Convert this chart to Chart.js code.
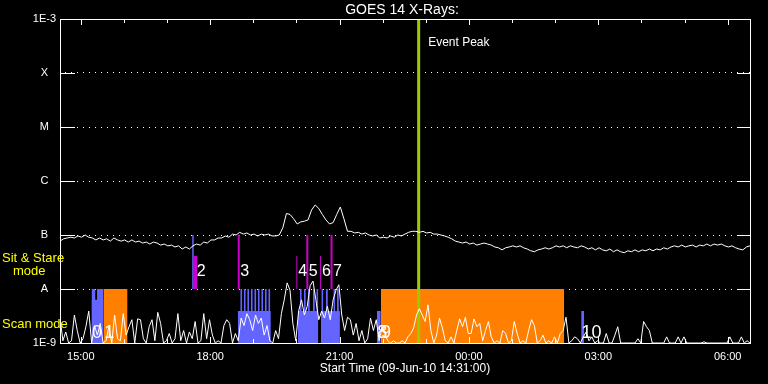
<!DOCTYPE html>
<html>
<head>
<meta charset="utf-8">
<script src="https://cdn.jsdelivr.net/npm/chart.js@4/dist/chart.umd.min.js"></script>
<style>
html,body{margin:0;padding:0;background:#000;}
#wrap{width:768px;height:384px;}
canvas{display:block;}
</style>
</head>
<body>
<div id="wrap"><canvas id="c" width="768" height="384"></canvas></div>
<script>
// ---------------- DATA ----------------
const titleText = 'GOES 14 X-Rays:';
const xTitleText = 'Start Time (09-Jun-10 14:31:00)';
// time axis: minutes since 14:31 UT
const xMin = 0, xMax = 960;
const xTickTimes = [29, 209, 389, 569, 749, 929];
const xTickLabels = ['15:00', '18:00', '21:00', '00:00', '03:00', '06:00'];
const hourTickTimes = [29, 89, 149, 209, 269, 329, 389, 449, 509, 569, 629, 689, 749, 809, 869, 929];
const yTickValues = [1e-9, 1e-8, 1e-7, 1e-6, 1e-5, 1e-4, 1e-3];
const yTickLabels = ['1E-9', 'A', 'B', 'C', 'M', 'X', '1E-3'];

// GOES long channel (1-8 A), one value every 5 minutes
const longStep = 5;
const longFlux = [
 7.7e-8, 8.5e-8, 8.8e-8, 9.1e-8, 8.8e-8, 9.6e-8, 9.1e-8, 1.0e-7, 9.1e-8, 8.8e-8,
 8.1e-8, 8.8e-8, 8.1e-8, 8.5e-8, 7.7e-8, 8.8e-8, 8.1e-8, 7.7e-8, 8.1e-8, 7.4e-8,
 8.1e-8, 7.4e-8, 7.7e-8, 7.1e-8, 7.4e-8, 6.8e-8, 7.4e-8, 7.1e-8, 6.5e-8, 6.8e-8,
 6.3e-8, 6.5e-8, 6.0e-8, 6.3e-8, 5.5e-8, 6.0e-8, 5.5e-8, 6.3e-8, 6.8e-8, 6.5e-8,
 7.4e-8, 7.1e-8, 8.1e-8, 8.1e-8, 8.8e-8, 8.8e-8, 9.6e-8, 9.1e-8, 1.04e-7, 1.0e-7,
 1.12e-7, 1.04e-7, 1.09e-7, 1.0e-7, 1.04e-7, 9.6e-8, 1.04e-7, 1.0e-7, 1.04e-7, 9.6e-8,
 9.6e-8, 1.0e-7, 1.36e-7, 2.5e-7, 2.4e-7, 2.0e-7, 1.6e-7, 1.75e-7, 1.8e-7, 1.9e-7,
 2.9e-7, 3.6e-7, 3.1e-7, 2.4e-7, 1.9e-7, 1.6e-7, 1.7e-7, 2.4e-7, 3.3e-7, 2.0e-7,
 1.17e-7, 1.17e-7, 1.09e-7, 1.12e-7, 1.04e-7, 1.09e-7, 1.0e-7, 9.6e-8, 1.0e-7, 8.8e-8,
 9.1e-8, 8.8e-8, 9.6e-8, 9.1e-8, 1.0e-7, 9.6e-8, 1.04e-7, 1.12e-7, 1.17e-7, 1.17e-7,
 1.12e-7, 1.17e-7, 1.09e-7, 1.12e-7, 1.04e-7, 1.04e-7, 1.0e-7, 9.6e-8, 9.1e-8, 8.5e-8,
 7.7e-8, 7.4e-8, 7.1e-8, 7.4e-8, 6.8e-8, 7.1e-8, 6.5e-8, 6.8e-8, 7.1e-8, 6.8e-8,
 6.5e-8, 6.0e-8, 5.8e-8, 5.3e-8, 5.8e-8, 6.0e-8, 6.3e-8, 6.0e-8, 6.3e-8, 5.8e-8,
 5.5e-8, 5.1e-8, 4.9e-8, 5.3e-8, 5.5e-8, 5.8e-8, 5.5e-8, 5.8e-8, 6.3e-8, 6.0e-8,
 6.3e-8, 5.8e-8, 6.3e-8, 6.0e-8, 5.8e-8, 6.3e-8, 6.0e-8, 5.5e-8, 5.8e-8, 5.3e-8,
 5.8e-8, 5.3e-8, 5.1e-8, 5.5e-8, 4.9e-8, 5.3e-8, 4.9e-8, 4.7e-8, 5.1e-8, 4.9e-8,
 5.3e-8, 4.9e-8, 5.3e-8, 5.1e-8, 5.5e-8, 5.1e-8, 5.5e-8, 5.3e-8, 5.8e-8, 5.5e-8,
 6.0e-8, 6.3e-8, 6.0e-8, 6.5e-8, 6.0e-8, 6.3e-8, 6.5e-8, 6.0e-8, 6.5e-8, 6.3e-8,
 6.8e-8, 6.3e-8, 6.8e-8, 6.5e-8, 6.8e-8, 6.3e-8, 6.0e-8, 6.3e-8, 5.8e-8, 5.5e-8,
 5.3e-8, 6.0e-8, 6.3e-8
];

// GOES short channel (0.5-4 A), one value every 4 minutes
const shortStep = 4;
const shortFlux = [
 3.0e-9, 1.1e-9, 1.6e-9, 1.0e-9, 1.1e-9, 3.3e-9, 1.7e-9, 1.0e-9, 1.2e-9, 2.0e-9,
 3.9e-9, 1.0e-9, 2.1e-9, 1.4e-9, 2.3e-9, 1.0e-9, 1.1e-9, 2.0e-9, 1.0e-9, 3.3e-9,
 1.2e-9, 1.1e-9, 3.5e-9, 1.4e-9, 2.0e-9, 2.7e-9, 1.0e-9, 2.8e-9, 2.7e-9, 1.2e-9,
 1.0e-9, 2.0e-9, 2.7e-9, 1.1e-9, 3.7e-9, 2.3e-9, 1.0e-9, 1.1e-9, 1.5e-9, 1.0e-9,
 1.2e-9, 3.5e-9, 1.1e-9, 1.7e-9, 1.0e-9, 1.6e-9, 1.2e-9, 2.5e-9, 1.0e-9, 1.1e-9,
 3.5e-9, 1.2e-9, 2.7e-9, 1.4e-9, 1.0e-9, 1.1e-9, 1.0e-9, 2.1e-9, 2.7e-9, 2.3e-9,
 1.0e-9, 1.5e-9, 1.1e-9, 2.9e-9, 2.1e-9, 3.5e-9, 2.7e-9, 1.7e-9, 3.3e-9, 2.3e-9,
 2.9e-9, 1.4e-9, 2.1e-9, 1.1e-9, 1.0e-9, 1.7e-9, 1.2e-9, 3.5e-9, 6.3e-9, 1.3e-8,
 9.5e-9, 2.3e-9, 1.1e-9, 3.9e-9, 6.3e-9, 3.3e-9, 4.8e-9, 1.15e-8, 1.4e-8, 6.3e-9,
 2.7e-9, 3.9e-9, 2.9e-9, 4.8e-9, 2.7e-9, 6.3e-9, 9.5e-9, 1.2e-8, 3.3e-9, 1.7e-9,
 3.0e-9, 2.7e-9, 1.4e-9, 2.3e-9, 1.1e-9, 1.7e-9, 1.0e-9, 1.2e-9, 2.9e-9, 1.7e-9,
 2.7e-9, 1.1e-9, 2.0e-9, 1.5e-9, 1.1e-9, 1.0e-9, 1.1e-9, 1.0e-9, 1.0e-9, 1.1e-9,
 1.0e-9, 1.3e-9, 1.5e-9, 1.9e-9, 3.3e-9, 4.3e-9, 3.3e-9, 2.5e-9, 5.1e-9, 1.7e-9,
 1.0e-9, 1.4e-9, 2.9e-9, 1.9e-9, 1.1e-9, 1.0e-9, 1.3e-9, 1.0e-9, 1.7e-9, 2.8e-9,
 2.0e-9, 3.0e-9, 1.5e-9, 1.5e-9, 2.8e-9, 2.0e-9, 2.3e-9, 1.1e-9, 1.7e-9, 2.5e-9,
 1.3e-9, 1.0e-9, 1.1e-9, 1.0e-9, 1.7e-9, 1.5e-9, 1.0e-9, 1.1e-9, 2.5e-9, 1.5e-9,
 1.0e-9, 1.1e-9, 1.0e-9, 1.7e-9, 2.7e-9, 2.1e-9, 1.0e-9, 1.1e-9, 1.4e-9, 1.0e-9,
 1.1e-9, 1.0e-9, 1.3e-9, 1.0e-9, 1.5e-9, 1.7e-9, 3.0e-9, 1.0e-9, 1.1e-9, 1.3e-9,
 1.2e-9, 1.0e-9, 1.3e-9, 1.6e-9, 1.1e-9, 1.3e-9, 1.0e-9, 1.1e-9, 1.0e-9, 1.0e-9,
 1.5e-9, 1.0e-9, 1.0e-9, 1.4e-9, 2.0e-9, 1.0e-9, 1.0e-9, 1.0e-9, 1.0e-9, 1.0e-9,
 1.0e-9, 1.2e-9, 1.0e-9, 2.5e-9, 2.0e-9, 1.7e-9, 1.0e-9, 1.0e-9, 1.0e-9, 1.0e-9,
 1.0e-9, 1.3e-9, 1.0e-9, 1.0e-9, 1.0e-9, 1.3e-9, 1.0e-9, 1.3e-9, 1.0e-9, 1.0e-9,
 1.0e-9, 1.0e-9, 1.0e-9, 1.0e-9, 1.05e-9, 1.0e-9, 1.0e-9, 1.0e-9, 1.0e-9, 1.0e-9,
 1.0e-9, 1.0e-9, 1.0e-9, 1.3e-9, 1.0e-9, 1.0e-9, 1.0e-9, 1.3e-9, 1.0e-9, 1.1e-9,
 1.0e-9
];

// Scan-mode observation blocks (blue): start, end (minutes), upper flux level
const scanBlockStart = [43.9, 247.3, 330.9, 363.0, 441.0, 725.1];
const scanBlockEnd   = [60.6, 293.3, 358.8, 389.4, 446.3, 729.3];
const scanBlockTop   = [6.3e-9, 3.9e-9, 3.9e-9, 3.9e-9, 3.9e-9, 3.9e-9];
// individual scan rasters reaching the A level (blue)
const rasterStart = [43.9, 51.5, 250.8, 255.6, 260.5, 265.4, 270.3, 275.1, 280.0, 284.9, 289.8,
                     333.6, 339.2, 344.8, 351.8, 356.6, 363.6, 369.9, 380.3, 385.2];
const rasterEnd   = [49.4, 60.6, 253.6, 258.4, 263.3, 268.2, 273.1, 277.9, 282.8, 287.7, 292.6,
                     336.4, 342.0, 347.6, 354.6, 359.4, 366.4, 372.7, 383.1, 388.0];
const rasterTop = 1e-8;
// long scan-mode runs (orange)
const runStart = [60.6, 446.5];
const runEnd   = [94.0, 701.5];
const runTop = 1e-8;
// sit & stare events (magenta)
const eventLabels = ['2', '3', '4', '5', '6', '7'];
const eventTimes  = [188.1, 248.7, 329.5, 344.1, 362.5, 377.8];
const eventLow    = [1e-8, 1e-8, 1e-8, 1e-8, 1e-8, 1e-8];
const eventHigh   = [4.1e-8, 1e-7, 4.1e-8, 1e-7, 4.1e-8, 1e-7];
const stareBlueTime = 185.0;
const stareBlueLow = 1e-8, stareBlueHigh = 1e-7;
// scan numbers
const scanLabels = ['0', '1', '8', '9', '10'];
const scanLabelTimes = [44.5, 61.5, 441.5, 446.5, 725.5];
// event peak
const eventPeakTime = 499.0;
const eventPeakText = 'Event Peak';

// ---------------- STYLE ----------------
const FONT = "'Liberation Sans', Arial, Helvetica, sans-serif";
const WHITE = '#ffffff';
const BLUE = '#6464ff';
const ORANGE = '#ff8000';
const MAGENTA = '#cc00cc';
const PEAK = '#99cc00';
const YELLOW = '#ffff00';
const eventWidths = [4, 2, 1, 2, 1, 2];
const eventLabelLevel = 2.07e-8;
const scanLabelLevel = 1.5e-9;

function vline(t, lo, hi, color, w) {
  return { type: 'line', data: [{x: t, y: lo}, {x: t, y: hi}], borderColor: color, borderWidth: w,
           borderCapStyle: 'butt', pointRadius: 0, fill: false, tension: 0 };
}
function rect(s, e, top, color) {
  return { type: 'line', data: [{x: s, y: top}, {x: e, y: top}], borderColor: 'rgba(0,0,0,0)', borderWidth: 0,
           backgroundColor: color, pointRadius: 0, fill: 'start', tension: 0 };
}

const datasets = [];
datasets.push({ type: 'line', data: longFlux.map((v, i) => ({x: i * longStep, y: v})),
  borderColor: WHITE, borderWidth: 1, pointRadius: 0, fill: false, tension: 0 });
datasets.push({ type: 'line', data: shortFlux.map((v, i) => ({x: i * shortStep, y: v})),
  borderColor: WHITE, borderWidth: 1, pointRadius: 0, fill: false, tension: 0 });
datasets.push(vline(eventPeakTime, 1e-9, 1e-3, PEAK, 3));
eventTimes.forEach((t, i) => datasets.push(vline(t, eventLow[i], eventHigh[i], MAGENTA, eventWidths[i])));
datasets.push(vline(stareBlueTime, stareBlueLow, stareBlueHigh, BLUE, 1.5));
rasterStart.forEach((s, i) => datasets.push(rect(s, rasterEnd[i], rasterTop, BLUE)));
scanBlockStart.forEach((s, i) => datasets.push(rect(s, scanBlockEnd[i], scanBlockTop[i], BLUE)));
runStart.forEach((s, i) => datasets.push(rect(s, runEnd[i], runTop, ORANGE)));

const decor = {
  id: 'decor',
  beforeDraw(chart) {
    const ctx = chart.ctx;
    ctx.save(); ctx.fillStyle = '#000'; ctx.fillRect(0, 0, chart.width, chart.height); ctx.restore();
  },
  afterDatasetsDraw(chart) {
    const {ctx, chartArea: a, scales: {x, y}} = chart;
    ctx.save();
    ctx.strokeStyle = WHITE; ctx.lineWidth = 1;
    const L = Math.round(a.left), R = Math.round(a.right), T = Math.round(a.top), B = Math.round(a.bottom);
    ctx.strokeRect(L + 0.5, T + 0.5, R - L, B - T);
    ctx.beginPath();
    hourTickTimes.forEach(h => {
      const px = Math.round(x.getPixelForValue(h)) + 0.5;
      const len = xTickTimes.includes(h) ? 6 : 4;
      ctx.moveTo(px, T); ctx.lineTo(px, T + len);
      ctx.moveTo(px, B); ctx.lineTo(px, B - len);
    });
    yTickValues.forEach(v => {
      const py = Math.round(y.getPixelForValue(v)) + 0.5;
      ctx.moveTo(L, py); ctx.lineTo(L + 15, py);
      ctx.moveTo(R - 13, py); ctx.lineTo(R, py);
    });
    ctx.stroke();

    // texts
    ctx.textBaseline = 'middle';
    ctx.fillStyle = WHITE;
    ctx.textAlign = 'center';
    ctx.font = `14px ${FONT}`;
    ctx.fillText(titleText, (a.left + a.right) / 2 - 3, 10);

    ctx.textAlign = 'left';
    ctx.font = `12px ${FONT}`;
    ctx.fillText(eventPeakText, x.getPixelForValue(eventPeakTime) + 9.5, a.top + 24);

    ctx.font = `16px ${FONT}`;
    eventLabels.forEach((lab, i) => {
      ctx.fillText(lab, x.getPixelForValue(eventTimes[i]) + 1.5, y.getPixelForValue(eventLabelLevel));
    });
    ctx.font = `18px ${FONT}`;
    scanLabels.forEach((lab, i) => {
      ctx.fillText(lab, x.getPixelForValue(scanLabelTimes[i]), y.getPixelForValue(scanLabelLevel));
    });

    ctx.fillStyle = YELLOW;
    ctx.font = `13px ${FONT}`;
    ctx.fillText('Sit & Stare', 2, 258);
    ctx.fillText('mode', 13, 271);
    ctx.fillText('Scan mode', 2, 324);
    ctx.restore();
  }
};

new Chart(document.getElementById('c'), {
  type: 'line',
  data: { datasets },
  options: {
    responsive: false,
    animation: false,
    devicePixelRatio: 1,
    events: [],
    layout: { padding: { top: 19, right: 18, left: 0, bottom: 0 } },
    plugins: { legend: { display: false }, tooltip: { enabled: false }, title: { display: false } },
    scales: {
      x: {
        type: 'linear', min: xMin, max: xMax,
        afterBuildTicks: s => { s.ticks = xTickTimes.map(v => ({value: v})); },
        afterFit: s => { s.height = 41; },
        ticks: { color: WHITE, font: { family: FONT, size: 11 }, padding: 7, maxRotation: 0, autoSkip: false,
                 callback: (v, i) => xTickLabels[i] },
        grid: { display: false, drawTicks: false },
        border: { display: false },
        title: { display: true, text: xTitleText, color: WHITE, font: { family: FONT, size: 12 },
                 padding: { top: 0, bottom: 8 } }
      },
      y: {
        type: 'logarithmic', min: 1e-9, max: 1e-3,
        afterBuildTicks: s => { s.ticks = yTickValues.map(v => ({value: v})); },
        afterFit: s => { s.width = 60; },
        ticks: { color: WHITE, font: { family: FONT, size: 11 }, padding: 4, crossAlign: 'center', autoSkip: false,
                 callback: (v, i) => yTickLabels[i] },
        grid: { color: WHITE, lineWidth: 1, drawTicks: false },
        border: { display: false, dash: [1, 5], dashOffset: 1 }
      }
    }
  },
  plugins: [decor]
});
</script>
</body>
</html>
